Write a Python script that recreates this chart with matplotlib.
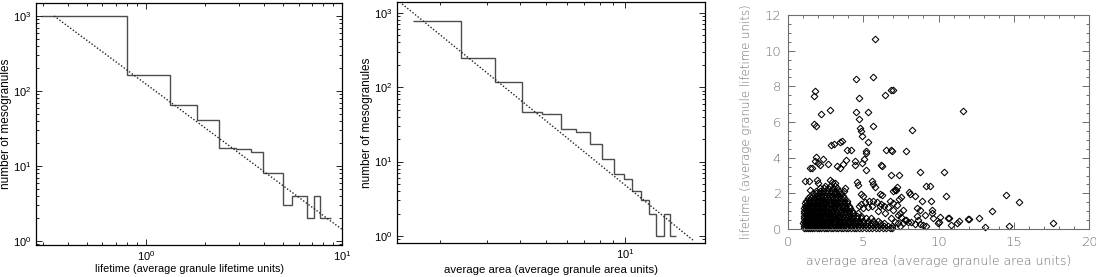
import numpy as np
import matplotlib.pyplot as plt
from matplotlib.ticker import MultipleLocator, NullFormatter, LogLocator

# %%
""" panel 1: lifetime distribution """
life_edges = [0.29, 0.80, 1.33, 1.82, 2.37, 2.88, 3.42, 3.96, 5.01, 5.57, 6.64, 7.18, 7.76, 8.83]
life_counts = [1000, 162, 66, 40.6, 17.5, 16.7, 15.5, 8.0, 3, 4, 2, 4, 2]
life_fit_x = [0.34, 10.0]
life_fit_y = [1000, 1.43]

""" panel 2: area distribution """
area_edges = [1.57, 2.39, 3.21, 4.06, 4.86, 5.69, 6.53, 7.33, 8.16, 9.03, 9.86,
              10.6, 11.5, 12.3, 13.1, 13.95, 14.8, 15.6]
area_counts = [780, 250, 118, 47, 43, 27, 24.7, 17, 10.8, 6.9, 5.9, 4, 3, 2, 1, 2, 1]
area_fit_x = [1.40, 18.0]
area_fit_y = [1400, 0.88]

""" panel 3: lifetime vs area scatter """
# sparse points (area, lifetime)
sparse_pts = [
    (5.77, 10.68), (4.55, 8.40), (5.68, 8.55), (4.72, 7.33), (6.85, 7.80), (6.96, 7.80), (6.43, 7.50),
    (1.80, 7.72), (1.75, 7.45), (2.77, 6.69), (2.17, 6.43), (1.73, 5.90), (1.86, 5.75),
    (4.50, 6.56), (5.32, 6.56), (4.70, 6.18), (4.77, 5.66), (4.84, 5.47), (4.92, 5.23), (5.68, 5.79),
    (8.21, 5.53), (11.6, 6.64),
    (2.88, 4.70), (3.06, 4.78), (3.44, 4.88), (3.60, 4.91), (3.95, 4.44), (4.21, 4.44), (5.32, 4.86),
    (5.17, 4.39), (5.21, 4.26), (6.54, 4.45), (6.83, 4.45), (6.92, 4.35), (7.87, 4.35),
    (1.89, 4.04), (1.82, 3.79), (2.00, 3.70), (2.33, 3.92), (1.44, 3.42), (1.62, 3.42), (2.11, 3.57),
    (2.66, 3.64), (3.28, 3.51), (3.44, 3.42), (3.88, 3.89), (3.66, 3.66), (4.44, 3.79), (4.48, 3.60),
    (4.92, 3.70), (5.06, 3.92), (5.17, 3.33), (6.21, 3.61), (6.25, 3.51), (6.83, 3.04), (7.38, 3.04),
    (8.76, 3.18), (10.38, 3.17),
    (1.15, 2.71), (1.38, 2.71), (1.91, 2.76), (2.00, 2.58), (1.44, 2.20), (2.77, 2.76), (2.93, 2.61),
    (3.11, 2.58), (3.82, 2.30), (3.73, 2.11), (4.61, 2.61), (4.66, 2.48), (4.88, 1.98), (4.99, 1.87),
    (5.59, 2.67), (5.66, 2.54), (5.77, 2.35), (6.14, 1.98), (6.25, 1.92), (6.99, 2.11), (7.10, 2.20),
    (7.21, 2.35), (7.16, 2.20), (7.36, 1.68), (7.54, 1.79), (8.03, 2.05), (8.10, 1.98), (8.47, 1.83),
    (8.92, 1.55), (9.20, 2.39), (9.42, 2.43), (9.49, 1.55),
    (9.56, 1.05), (9.65, 0.62), (10.09, 0.67), (10.0, 0.37), (9.98, 0.34), (10.53, 1.83), (10.62, 0.62),
    (10.71, 0.62), (10.80, 0.20), (11.20, 0.34), (11.33, 0.45), (11.99, 0.58), (12.04, 0.58),
    (12.66, 0.62), (13.57, 0.99), (14.48, 1.92), (15.34, 1.49), (13.08, 0.09), (14.70, 0.19), (17.63, 0.34),
    (8.60, 1.17), (8.76, 1.08), (9.09, 0.80), (9.54, 0.89), (8.54, 0.71), (8.65, 0.52), (8.76, 0.30),
    (9.20, 0.19), (8.98, 0.20), (8.43, 0.30), (8.20, 0.37),
    (7.32, 0.80), (7.54, 0.67), (7.76, 0.52), (7.98, 0.37), (6.99, 1.08), (6.65, 1.23), (6.43, 0.89),
    (6.83, 0.61), (7.32, 0.33), (7.43, 0.18), (7.61, 1.08), (7.43, 0.90), (6.98, 1.46), (7.21, 1.36),
    (6.76, 1.55), (6.10, 1.27), (5.99, 0.99), (7.65, 0.34), (7.10, 0.37), (7.87, 0.52),
]
ring_pts = [
    (4.70, 1.31), (4.84, 1.42), (5.10, 1.49), (5.37, 1.55), (5.66, 1.55), (5.94, 1.49),
    (6.21, 1.42), (6.39, 1.31), (4.99, 1.17), (5.32, 1.23), (5.59, 1.27),
]
# dense core, read row by row: (lifetime, [areas])
core_rows = [
    (0.05, [1.04, 1.17, 1.31, 1.46, 1.60, 1.76, 1.90, 2.06, 2.21, 2.37, 2.52, 2.68, 2.85, 3.01, 3.18, 3.33, 3.50,
            3.66, 3.83, 4.00, 4.18, 4.36, 4.55, 4.74, 4.95, 5.16, 5.38, 5.60, 5.82, 6.05, 6.28, 6.52, 6.76, 6.92]),
    (0.18, [1.09, 1.23, 1.38, 1.53, 1.68, 1.83, 1.98, 2.13, 2.29, 2.44, 2.60, 2.76, 2.93, 3.09, 3.25, 3.42, 3.58,
            3.75, 3.92, 4.09, 4.27, 4.46, 4.65, 4.85, 5.05, 5.27, 5.49, 5.71, 5.94, 6.17, 6.41, 6.64, 6.88]),
    (0.32, [1.02, 1.15, 1.29, 1.44, 1.58, 1.73, 1.88, 2.03, 2.18, 2.34, 2.49, 2.65, 2.81, 2.97, 3.13, 3.30, 3.46,
            3.63, 3.80, 3.97, 4.15, 4.34, 4.54, 4.76, 4.99, 5.24, 5.50, 5.78, 6.08, 6.40]),
    (0.46, [1.07, 1.21, 1.35, 1.50, 1.65, 1.80, 1.95, 2.10, 2.26, 2.41, 2.57, 2.73, 2.89, 3.05, 3.22, 3.38, 3.55,
            3.72, 3.90, 4.08, 4.28, 4.50, 4.74, 5.00, 5.30, 5.62, 5.95]),
    (0.60, [1.04, 1.18, 1.32, 1.47, 1.62, 1.77, 1.92, 2.07, 2.22, 2.38, 2.54, 2.70, 2.86, 3.02, 3.19, 3.36, 3.53,
            3.71, 3.90, 4.10, 4.32, 4.56, 4.84, 5.15, 5.50]),
    (0.74, [1.09, 1.24, 1.39, 1.54, 1.69, 1.84, 1.99, 2.15, 2.31, 2.47, 2.63, 2.79, 2.96, 3.13, 3.30, 3.48, 3.67,
            3.87, 4.08, 4.30, 4.56, 4.85]),
    (0.88, [1.03, 1.17, 1.32, 1.47, 1.62, 1.77, 1.93, 2.09, 2.25, 2.41, 2.57, 2.74, 2.91, 3.08, 3.26, 3.45, 3.65,
            3.86, 4.08, 4.33, 4.62]),
    (1.02, [1.08, 1.23, 1.38, 1.53, 1.69, 1.85, 2.01, 2.17, 2.33, 2.50, 2.67, 2.84, 3.01, 3.19, 3.38, 3.58, 3.79,
            4.02, 4.28]),
    (1.16, [1.05, 1.20, 1.36, 1.52, 1.68, 1.84, 2.00, 2.16, 2.33, 2.50, 2.67, 2.85, 3.03, 3.22, 3.42, 3.63, 3.86,
            4.12]),
    (1.30, [1.10, 1.26, 1.42, 1.58, 1.74, 1.91, 2.08, 2.25, 2.42, 2.60, 2.78, 2.96, 3.15, 3.35, 3.56, 3.79, 4.05]),
    (1.44, [1.14, 1.31, 1.48, 1.65, 1.82, 1.99, 2.16, 2.34, 2.52, 2.70, 2.88, 3.07, 3.27, 3.48, 3.70, 3.95]),
    (1.58, [1.22, 1.40, 1.58, 1.76, 1.94, 2.12, 2.30, 2.49, 2.68, 2.87, 3.06, 3.26, 3.47, 3.70, 3.92]),
    (1.72, [1.33, 1.52, 1.71, 1.90, 2.09, 2.28, 2.47, 2.67, 2.87, 3.07, 3.28, 3.50, 3.74]),
    (1.86, [1.48, 1.69, 1.90, 2.11, 2.32, 2.53, 2.74, 2.95, 3.17, 3.40, 3.66]),
    (2.00, [1.64, 1.87, 2.10, 2.33, 2.56, 2.79, 3.03, 3.28, 3.55]),
    (2.14, [1.85, 2.10, 2.35, 2.60, 2.85, 3.12, 3.40]),
    (2.28, [2.12, 2.40, 2.68, 2.96, 3.25]),
    (2.42, [2.45, 2.78, 3.10]),
]

# %%
W, H = 1096, 277
fig = plt.figure(figsize=(W / 100, H / 100), dpi=100)


def px_axes(l, t, r, b):
    return fig.add_axes([l / W, 1 - b / H, (r - l) / W, (b - t) / H])


sans = 'Liberation Sans'
step_col = '#4d4d4d'

ax1 = px_axes(36, 3, 342, 245)
ax2 = px_axes(397, 2, 705, 243)
ax3 = px_axes(788, 15, 1089, 229)

ax1.stairs(life_counts, life_edges, baseline=None, color=step_col, lw=1.0)
ax1.plot(life_fit_x, life_fit_y, color='#222222', lw=1.0, ls=(0, (1, 1.4)))
ax1.set_xlim(0.275, 10)
ax1.set_ylim(0.885, 1490)
ax1.set_xlabel('lifetime (average granule lifetime units)', family=sans, fontsize=7.8, labelpad=1)
ax1.set_ylabel('number of mesogranules', family=sans, fontsize=8.5, labelpad=1)

ax2.stairs(area_counts, area_edges, baseline=None, color=step_col, lw=1.0)
ax2.plot(area_fit_x, area_fit_y, color='#222222', lw=1.0, ls=(0, (1, 1.4)))
ax2.set_xlim(1.37, 20)
ax2.set_ylim(0.805, 1393)
ax2.set_xlabel('average area (average granule area units)', family=sans, fontsize=8.2, labelpad=3)
ax2.set_ylabel('number of mesogranules', family=sans, fontsize=8.5, labelpad=1)

for ax in (ax1, ax2):
    ax.set_xscale('log')
    ax.set_yscale('log')
    ax.xaxis.set_minor_locator(LogLocator(subs=np.arange(2, 10)))
    ax.yaxis.set_minor_locator(LogLocator(subs=np.arange(2, 10)))
    ax.xaxis.set_minor_formatter(NullFormatter())
    ax.yaxis.set_minor_formatter(NullFormatter())
    ax.tick_params(which='both', direction='in', top=True, right=True, labelsize=8, width=0.6)
    ax.tick_params(which='major', length=4, pad=3)
    ax.tick_params(which='minor', length=2)
    for lab in ax.get_xticklabels() + ax.get_yticklabels():
        lab.set_family(sans)
    for s in ax.spines.values():
        s.set_linewidth(0.9)

# scatter
xs = [p[0] for p in sparse_pts] + [p[0] for p in ring_pts]
ys = [p[1] for p in sparse_pts] + [p[1] for p in ring_pts]
for y, row in core_rows:
    xs += row
    ys += [y] * len(row)
ax3.plot(xs, ys, 'D', ms=3.4, mfc='none', mec='black', mew=0.75, clip_on=False)

grey = '#6e6e6e'
ax3.set_xlim(0, 20)
ax3.set_ylim(0, 12)
ax3.xaxis.set_major_locator(MultipleLocator(5))
ax3.xaxis.set_minor_locator(MultipleLocator(1))
ax3.yaxis.set_major_locator(MultipleLocator(2))
ax3.yaxis.set_minor_locator(MultipleLocator(0.5))
ax3.tick_params(which='both', direction='in', top=True, right=True, colors=grey, labelsize=9.5, width=0.7)
ax3.tick_params(which='major', length=5, pad=5)
ax3.tick_params(which='minor', length=2.5)
for lab in ax3.get_xticklabels() + ax3.get_yticklabels():
    lab.set_fontweight('light')
for s in ax3.spines.values():
    s.set_color(grey)
    s.set_linewidth(0.8)
ax3.set_xlabel('average area (average granule area units)', color=grey, fontsize=9,
               fontweight='light', labelpad=5)
ax3.set_ylabel('lifetime (average granule lifetime units)', color=grey, fontsize=8.5,
               fontweight='light', labelpad=6)
ax3.yaxis.set_label_coords(-0.118, 0.5)

fig.savefig('out.png', dpi=100)
